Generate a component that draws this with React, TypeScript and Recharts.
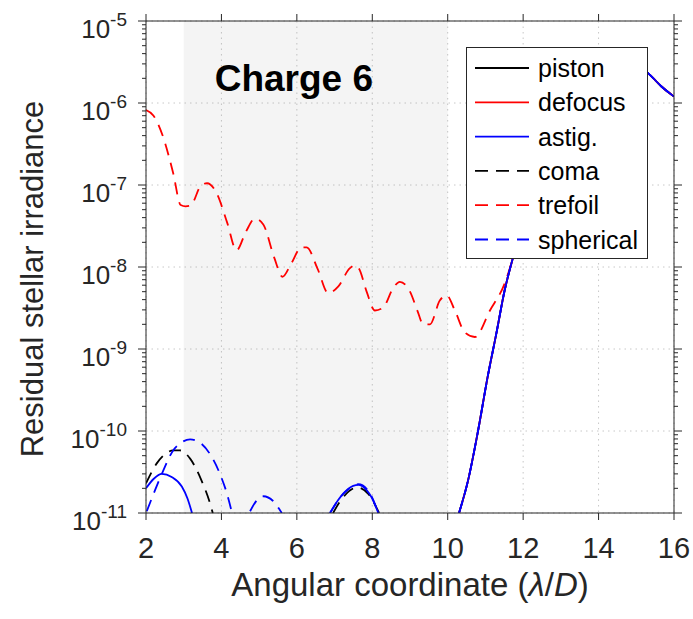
import React from "react"
import {
  LineChart,
  Line,
  XAxis,
  YAxis,
  CartesianGrid,
  ReferenceArea,
  Label,
} from "recharts"

// axis ticks
const xTicks = [2, 4, 6, 8, 10, 12, 14, 16]
const yExponents = [-11, -10, -9, -8, -7, -6, -5]
const minorMantissas = [2, 3, 4, 5, 6, 7, 8, 9]
const shadedFrom = 3
const shadedTo = 10

// shared tail outside the dark hole (mostly hidden behind the legend)
const tailX = [10.3, 10.54, 10.8, 11.06, 11.29, 11.51, 11.71, 12, 12.5, 13, 13.5, 14, 14.5, 15, 15.34, 15.66, 16]
const tailY = [1e-11, 2.5e-11, 9.8e-11, 4.6e-10, 1.55e-9, 5.2e-9, 1.2e-8, 3.2e-8, 1.3e-7, 4.5e-7, 1.2e-6, 2.4e-6, 3.3e-6, 3e-6, 2.25e-6, 1.6e-6, 1.2e-6]

const pistonX = [...tailX]
const pistonY = [...tailY]

const defocusX = [...tailX]
const defocusY = [...tailY]

const astigX = [2, 2.2, 2.42, 2.68, 2.95, 3.1, 3.22, 5, 6.88, 7.1, 7.35, 7.63, 7.85, 8.0, 8.16, 9, ...tailX]
const astigY = [2e-11, 2.6e-11, 3e-11, 2.75e-11, 2.1e-11, 1.5e-11, 1e-11, null, 1e-11, 1.45e-11, 1.95e-11, 2.2e-11, 1.9e-11, 1.5e-11, 1e-11, null, ...tailY]

const comaX = [2, 2.28, 2.5, 2.72, 2.9, 3.17, 3.47, 3.7, 3.77, 5, 6.96, 7.2, 7.6, 7.9, 8.18]
const comaY = [2.3e-11, 4e-11, 5.2e-11, 5.8e-11, 5.8e-11, 4.6e-11, 2.5e-11, 1.3e-11, 1e-11, null, 1e-11, 1.5e-11, 2.05e-11, 1.7e-11, 1e-11]

const trefoilX = [2, 2.2, 2.45, 2.72, 2.92, 3.05, 3.18, 3.47, 3.62, 3.87, 4.15, 4.4, 4.65, 4.89, 5.11, 5.4, 5.62, 5.85, 6.12, 6.26, 6.55, 6.83, 7.1, 7.4, 7.54, 7.65, 7.85, 8.07, 8.29, 8.55, 8.73, 9.0, 9.2, 9.35, 9.53, 9.79, 9.97, 10.19, 10.45, 10.72, 11.12, 11.51, 11.7, 12, 12.5, 13, 13.5, 14, 14.5, 15, 15.34, 15.66, 16]
const trefoilY = [8.2e-7, 7e-7, 3.9e-7, 1.4e-7, 5.7e-8, 5.5e-8, 5.6e-8, 1e-7, 1.05e-7, 8e-8, 3.5e-8, 1.6e-8, 2.7e-8, 3.9e-8, 3.3e-8, 1.3e-8, 7.6e-9, 1.1e-8, 1.74e-8, 1.74e-8, 9.5e-9, 4.8e-9, 5.8e-9, 9.6e-9, 1.05e-8, 9.5e-9, 5e-9, 2.95e-9, 3.2e-9, 5.5e-9, 6.6e-9, 5e-9, 2.9e-9, 2e-9, 2e-9, 3.9e-9, 4.5e-9, 2.95e-9, 1.6e-9, 1.4e-9, 2.95e-9, 6.3e-9, 1.15e-8, 3.2e-8, 1.3e-7, 4.5e-7, 1.2e-6, 2.4e-6, 3.3e-6, 3e-6, 2.25e-6, 1.6e-6, 1.2e-6]

const sphericalX = [2.02, 2.24, 2.42, 2.72, 2.95, 3.17, 3.39, 3.7, 3.96, 4.15, 4.27, 4.5, 4.76, 4.95, 5.11, 5.37, 5.6, 6.2, 6.88, 7.15, 7.4, 7.63, 7.9, 8.16, 9, ...tailX]
const sphericalY = [1.05e-11, 1.9e-11, 3e-11, 5.8e-11, 7.3e-11, 7.9e-11, 7.4e-11, 5.2e-11, 3e-11, 1.7e-11, 1.05e-11, null, 1.05e-11, 1.45e-11, 1.6e-11, 1.4e-11, 1e-11, null, 1e-11, 1.55e-11, 2e-11, 2.25e-11, 1.85e-11, 1e-11, null, ...tailY]

const AXIS = "#262626"
const FONT = "'Liberation Sans', Arial, Helvetica, sans-serif"

const toPoints = (xs: number[], ys: (number | null)[]) => xs.map((x, i) => ({ x, y: ys[i] }))

const series = [
  { name: "piston", data: toPoints(pistonX, pistonY), color: "#000000", dash: undefined },
  { name: "defocus", data: toPoints(defocusX, defocusY), color: "#ff0000", dash: undefined },
  { name: "astig.", data: toPoints(astigX, astigY), color: "#0000ff", dash: undefined },
  { name: "coma", data: toPoints(comaX, comaY), color: "#000000", dash: "12 8" },
  { name: "trefoil", data: toPoints(trefoilX, trefoilY), color: "#ff0000", dash: "12 8" },
  { name: "spherical", data: toPoints(sphericalX, sphericalY), color: "#0000ff", dash: "12 8" },
]
// astig drawn last so the shared tail reads as a solid blue line
const drawOrder = ["piston", "defocus", "coma", "trefoil", "spherical", "astig."]

const majorY = yExponents.map((e) => Math.pow(10, e))
const minorY = yExponents.slice(0, -1).flatMap((e) => minorMantissas.map((m) => m * Math.pow(10, e)))
const allY = [...majorY, ...minorY].sort((a, b) => a - b)

const isMajor = (v: number) => {
  const e = Math.round(Math.log10(v))
  return Math.abs(v / Math.pow(10, e) - 1) < 1e-6
}

function LeftTick(props: any) {
  const { x, y, payload } = props
  const v = payload.value
  const major = isMajor(v)
  return (
    <g>
      <line x1={x} x2={x - (major ? 8 : 4)} y1={y} y2={y} stroke={AXIS} strokeWidth={1} />
      {major && (
        <text x={x - 19} y={y + 17} textAnchor="end" fill={AXIS} fontSize={26} fontFamily={FONT}>
          10
          <tspan dy={-12} fontSize={19}>{String(Math.round(Math.log10(v)))}</tspan>
        </text>
      )}
    </g>
  )
}

function RightTick(props: any) {
  const { x, y, payload } = props
  const major = isMajor(payload.value)
  return <line x1={x} x2={x + (major ? 8 : 4)} y1={y} y2={y} stroke={AXIS} strokeWidth={1} />
}

function BottomTick(props: any) {
  const { x, y, payload } = props
  return (
    <g>
      <line x1={x} x2={x} y1={y} y2={y + 7} stroke={AXIS} strokeWidth={1} />
      <text x={x} y={y + 45} textAnchor="middle" fill={AXIS} fontSize={29} fontFamily={FONT}>
        {payload.value}
      </text>
    </g>
  )
}

function TopTick(props: any) {
  const { x, y } = props
  return <line x1={x} x2={x} y1={y} y2={y - 7} stroke={AXIS} strokeWidth={1} />
}

function ChartLegend() {
  return (
    <div
      style={{
        position: "absolute",
        left: 466,
        top: 47,
        width: 180,
        height: 210,
        background: "#ffffff",
        border: `1.5px solid ${AXIS}`,
      }}
    >
      <svg width={180} height={210}>
        {series.map((s, i) => (
          <g key={s.name}>
            <line
              x1={8}
              x2={62}
              y1={20 + i * 34.3}
              y2={20 + i * 34.3}
              stroke={s.color}
              strokeWidth={1.8}
              strokeDasharray={s.dash ? "13 8" : undefined}
            />
            <text x={71} y={29 + i * 34.3} fontSize={25} fontFamily={FONT} fill="#000">
              {s.name}
            </text>
          </g>
        ))}
      </svg>
    </div>
  )
}

export default function App() {
  return (
    <div style={{ position: "relative", width: 693, height: 619, background: "#fff" }}>
      <style>{"body{margin:0}"}</style>
      <LineChart width={693} height={619} margin={{ top: 0, right: 0, bottom: 0, left: 0 }}>
        <ReferenceArea
          x1={shadedFrom}
          x2={shadedTo}
          fill="#808080"
          fillOpacity={0.09}
          stroke="none"
          label={(p: any) => (
            <text
              x={p.viewBox.x + 31}
              y={p.viewBox.y + 70}
              fontSize={37}
              fontWeight="bold"
              fontFamily={FONT}
              fill="#000"
            >
              Charge 6
            </text>
          )}
        />
        <CartesianGrid
          horizontalValues={majorY}
          verticalValues={xTicks}
          stroke="#c8c8c8"
          strokeDasharray="1.5 4"
        />
        <XAxis
          dataKey="x"
          type="number"
          domain={[2, 16]}
          ticks={xTicks}
          interval={0}
          allowDataOverflow
          height={106}
          tickSize={0}
          tickMargin={0}
          tickLine={false}
          tick={<BottomTick />}
          stroke={AXIS}
        >
          <Label
            content={(p: any) => (
              <text
                x={p.viewBox.x + p.viewBox.width / 2}
                y={p.viewBox.y + 83}
                textAnchor="middle"
                fontSize={33}
                fontFamily={FONT}
                fill={AXIS}
              >
                Angular coordinate (<tspan fontStyle="italic">λ</tspan>/<tspan fontStyle="italic">D</tspan>)
              </text>
            )}
          />
        </XAxis>
        <XAxis
          xAxisId="top"
          orientation="top"
          dataKey="x"
          type="number"
          domain={[2, 16]}
          ticks={xTicks}
          interval={0}
          allowDataOverflow
          height={21}
          tickSize={0}
          tickMargin={0}
          tickLine={false}
          tick={<TopTick />}
          stroke={AXIS}
        />
        <YAxis
          scale="log"
          type="number"
          domain={[1e-11, 1e-5]}
          ticks={allY}
          interval={0}
          allowDataOverflow
          width={146}
          tickSize={0}
          tickMargin={0}
          tickLine={false}
          tick={<LeftTick />}
          stroke={AXIS}
        >
          <Label
            content={(p: any) => {
              const cy = p.viewBox.y + p.viewBox.height / 2 + 12
              return (
                <text
                  x={43}
                  y={cy}
                  transform={`rotate(-90, 43, ${cy})`}
                  textAnchor="middle"
                  fontSize={31}
                  fontFamily={FONT}
                  fill={AXIS}
                >
                  Residual stellar irradiance
                </text>
              )
            }}
          />
        </YAxis>
        <YAxis
          yAxisId="right"
          orientation="right"
          scale="log"
          type="number"
          domain={[1e-11, 1e-5]}
          ticks={allY}
          interval={0}
          allowDataOverflow
          width={19}
          tickSize={0}
          tickMargin={0}
          tickLine={false}
          tick={<RightTick />}
          stroke={AXIS}
        />
        {drawOrder.map((name) => {
          const s = series.find((d) => d.name === name)!
          return (
            <Line
              key={s.name}
              data={s.data}
              dataKey="y"
              name={s.name}
              type="monotone"
              stroke={s.color}
              strokeWidth={1.8}
              strokeDasharray={s.dash}
              dot={false}
              activeDot={false}
              isAnimationActive={false}
            />
          )
        })}
      </LineChart>
      <ChartLegend />
    </div>
  )
}
